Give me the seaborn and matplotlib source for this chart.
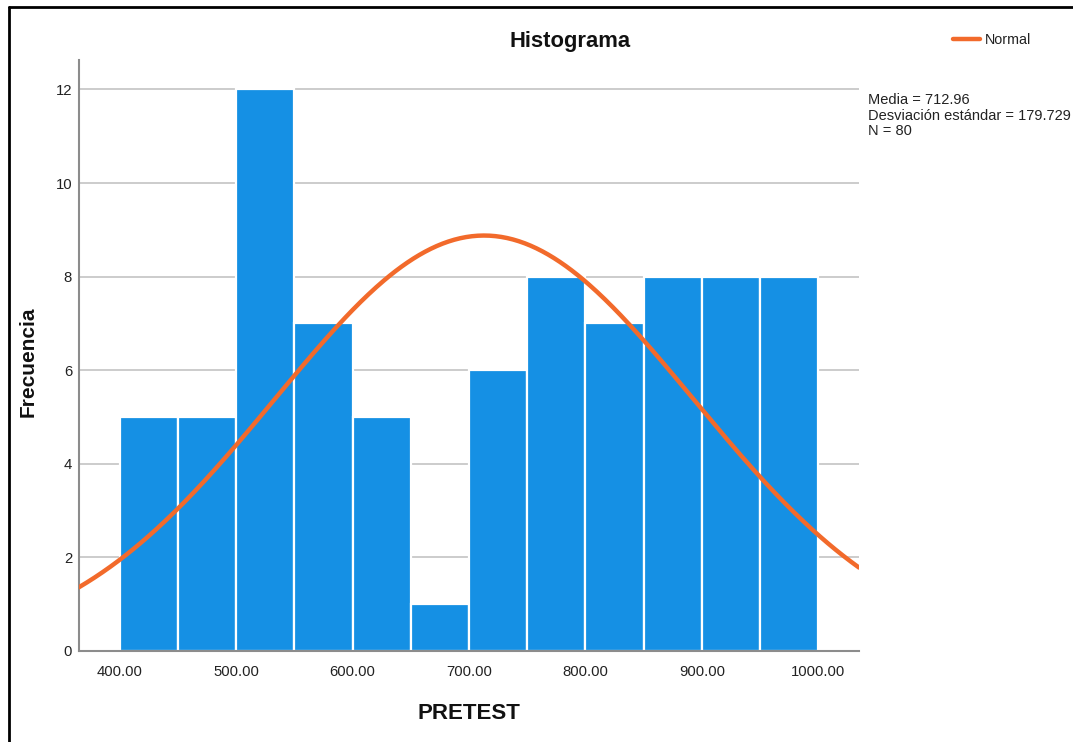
import numpy as np
import pandas as pd
import matplotlib
matplotlib.use("Agg")
import matplotlib.pyplot as plt
from matplotlib.lines import Line2D
import seaborn as sns

# ---- data ----
bin_edges = [400, 450, 500, 550, 600, 650, 700, 750, 800, 850, 900, 950, 1000]
counts = [5, 5, 12, 7, 5, 1, 6, 8, 7, 8, 8, 8]
media = 712.96
desviacion = 179.729
n_total = 80
x_ticks = [400, 500, 600, 700, 800, 900, 1000]
y_ticks = [0, 2, 4, 6, 8, 10, 12]

BAR = "#1590E4"
ORANGE = "#F26A2B"

sns.set_theme(style="white")
plt.rcParams["font.family"] = ["Liberation Sans", "DejaVu Sans"]

W, H = 1073, 742
fig = plt.figure(figsize=(W / 100, H / 100), dpi=100)
ax = fig.add_axes([79 / W, 91 / H, 780 / W, 591 / H])

centers = [(a + b) / 2 for a, b in zip(bin_edges[:-1], bin_edges[1:])]
df = pd.DataFrame({"PRETEST": centers, "count": counts})
sns.histplot(data=df, x="PRETEST", weights="count", bins=bin_edges,
             color=BAR, edgecolor="white", linewidth=1.6, alpha=1,
             ax=ax, zorder=2)

xlim = (365, 1035)
ylim = (0, 12.63)
binw = bin_edges[1] - bin_edges[0]
xs = np.linspace(xlim[0], xlim[1], 400)
ys = n_total * binw * np.exp(-0.5 * ((xs - media) / desviacion) ** 2) / (desviacion * np.sqrt(2 * np.pi))
sns.lineplot(x=xs, y=ys, color=ORANGE, linewidth=3.2, ax=ax, label="Normal", zorder=3)

ax.set_xlim(*xlim)
ax.set_ylim(*ylim)
ax.set_xticks(x_ticks)
ax.set_xticklabels([f"{v:.2f}" for v in x_ticks])
ax.set_yticks(y_ticks)
ax.set_axisbelow(True)
ax.yaxis.grid(True, color="#c8c8c8", linewidth=1.3)
ax.xaxis.grid(False)
for s in ["top", "right"]:
    ax.spines[s].set_visible(False)
for s in ["left", "bottom"]:
    ax.spines[s].set_color("#8c8c8c")
    ax.spines[s].set_linewidth(1.5)
ax.tick_params(axis="x", length=0, labelsize=10.7, pad=10, colors="#222222")
ax.tick_params(axis="y", length=0, labelsize=10.7, pad=5, colors="#222222")

ax.set_xlabel("PRETEST", fontsize=16, fontweight="bold", color="#111111")
ax.xaxis.set_label_coords((469 - 79) / 780, (651 - 703) / 591)
ax.set_ylabel("Frecuencia", fontsize=15, fontweight="bold", color="#111111")
ax.yaxis.set_label_coords((38 - 79) / 780, (651 - 362) / 591)

fig.text(570 / W, 1 - 42 / H, "Histograma", ha="center", va="center",
         fontsize=15.8, fontweight="bold", color="#111111")

leg = ax.legend(loc="upper left", bbox_to_anchor=(953 / W, 1 - 33 / H),
                bbox_transform=fig.transFigure, frameon=False,
                handlelength=1.9, handletextpad=0.3, borderpad=0,
                borderaxespad=0, fontsize=10.3)
for t in leg.get_texts():
    t.set_color("#222222")

fig.text(868 / W, 1 - 93 / H,
         f"Media = {media:.2f}\nDesviación estándar = {desviacion:.3f}\nN = {n_total}",
         ha="left", va="top", fontsize=10.5, linespacing=1.15, color="#222222")

# outer frame (left and top edges as in the screenshot)
fig.add_artist(Line2D([8.5 / W, 8.5 / W], [0, 1 - 7 / H], transform=fig.transFigure,
                      color="black", linewidth=2))
fig.add_artist(Line2D([8.5 / W, 1], [1 - 7 / H, 1 - 7 / H], transform=fig.transFigure,
                      color="black", linewidth=2))

fig.savefig("out.png", dpi=100)
